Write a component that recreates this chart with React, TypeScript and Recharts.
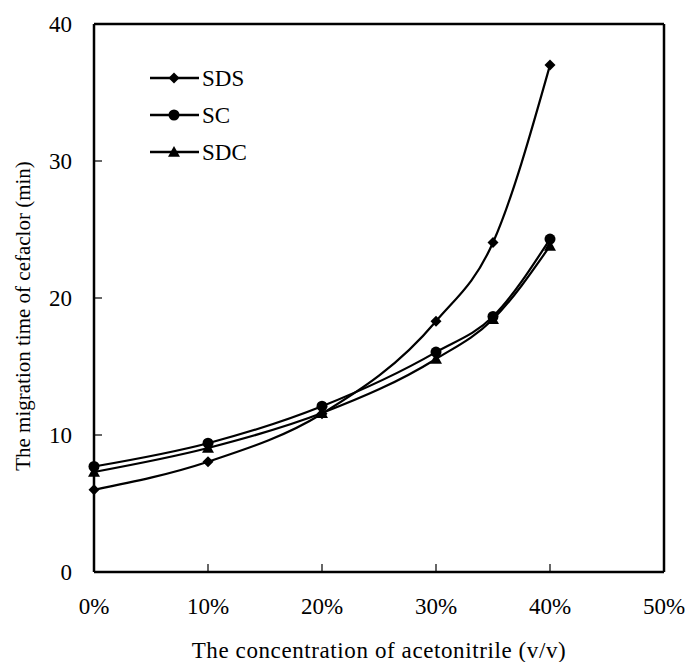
import React from 'react';
import { LineChart, Line, XAxis, YAxis, ReferenceLine } from 'recharts';

const concentrations = [0, 10, 20, 30, 35, 40];
const sds = [6.0, 8.05, 11.55, 18.3, 24.05, 37.0];
const sc = [7.7, 9.4, 12.1, 16.05, 18.65, 24.3];
const sdc = [7.3, 9.05, 11.6, 15.55, 18.45, 23.8];
const xTicks = [0, 10, 20, 30, 40, 50];
const yTicks = [0, 10, 20, 30, 40];

const data = concentrations.map((c, i) => ({ c, SDS: sds[i], SC: sc[i], SDC: sdc[i] }));

const FONT = '"Liberation Serif", "DejaVu Serif", serif';

const Diamond = (props: any) => {
  const { cx, cy } = props;
  if (cx == null || cy == null) return null;
  const s = 5.5;
  return <polygon points={`${cx},${cy - s} ${cx + s},${cy} ${cx},${cy + s} ${cx - s},${cy}`} fill="#000" />;
};

const Circle = (props: any) => {
  const { cx, cy } = props;
  if (cx == null || cy == null) return null;
  return <circle cx={cx} cy={cy} r={5.5} fill="#000" />;
};

const Triangle = (props: any) => {
  const { cx, cy } = props;
  if (cx == null || cy == null) return null;
  const s = 6;
  return <polygon points={`${cx},${cy - s} ${cx + s},${cy + s * 0.8} ${cx - s},${cy + s * 0.8}`} fill="#000" />;
};

const legendItems = [
  { name: 'SDS', Marker: Diamond },
  { name: 'SC', Marker: Circle },
  { name: 'SDC', Marker: Triangle },
];

const ChartLegend = () => (
  <svg width={120} height={110} style={{ position: 'absolute', left: 150, top: 62 }}>
    {legendItems.map((it, i) => {
      const y = 16 + i * 37;
      return (
        <g key={it.name}>
          <line x1={0} x2={49} y1={y} y2={y} stroke="#000" strokeWidth={2.5} />
          <it.Marker cx={24} cy={y} />
          <text x={52} y={y + 8} fontFamily={FONT} fontSize={23} fill="#000">{it.name}</text>
        </g>
      );
    })}
  </svg>
);

const YTitle = () => (
  <text
    x={23}
    y={316}
    transform="rotate(-90 23 316)"
    textAnchor="middle"
    dominantBaseline="central"
    fontFamily={FONT}
    fontSize={21}
    fill="#000"
  >
    The migration time of cefaclor (min)
  </text>
);

export default function App() {
  return (
    <div style={{ position: 'absolute', left: 0, top: 0, width: 688, height: 662, background: '#fff' }}>
      <LineChart width={688} height={662} data={data} margin={{ top: 24, right: 24, left: 0, bottom: 0 }}>
        <XAxis
          dataKey="c"
          type="number"
          domain={[0, 50]}
          ticks={xTicks}
          tickFormatter={(v) => `${v}%`}
          height={90}
          axisLine={{ stroke: '#000', strokeWidth: 2.5 }}
          tickLine={{ stroke: '#000', strokeWidth: 1.2 }}
          tickSize={-8}
          tickMargin={34}
          tick={{ fill: '#000', fontFamily: FONT, fontSize: 23 }}
          label={{ value: 'The concentration of acetonitrile (v/v)', position: 'insideBottom', offset: 4, fill: '#000', fontFamily: FONT, fontSize: 23, letterSpacing: 0.6 }}
        />
        <YAxis
          type="number"
          domain={[0, 40]}
          ticks={yTicks}
          width={94}
          axisLine={{ stroke: '#000', strokeWidth: 2.5 }}
          tickLine={{ stroke: '#000', strokeWidth: 1.2 }}
          tickSize={-8}
          tickMargin={30}
          tick={{ fill: '#000', fontFamily: FONT, fontSize: 23 }}
          label={{ content: () => <YTitle /> }}
        />
        <ReferenceLine y={40} stroke="#000" strokeWidth={2.5} ifOverflow="visible" />
        <ReferenceLine x={50} stroke="#000" strokeWidth={2.5} ifOverflow="visible" />
        <Line type="monotone" dataKey="SDS" stroke="#000" strokeWidth={2.2} dot={<Diamond />} activeDot={false} isAnimationActive={false} />
        <Line type="monotone" dataKey="SC" stroke="#000" strokeWidth={2.2} dot={<Circle />} activeDot={false} isAnimationActive={false} />
        <Line type="monotone" dataKey="SDC" stroke="#000" strokeWidth={2.2} dot={<Triangle />} activeDot={false} isAnimationActive={false} />
      </LineChart>
      <ChartLegend />
    </div>
  );
}
